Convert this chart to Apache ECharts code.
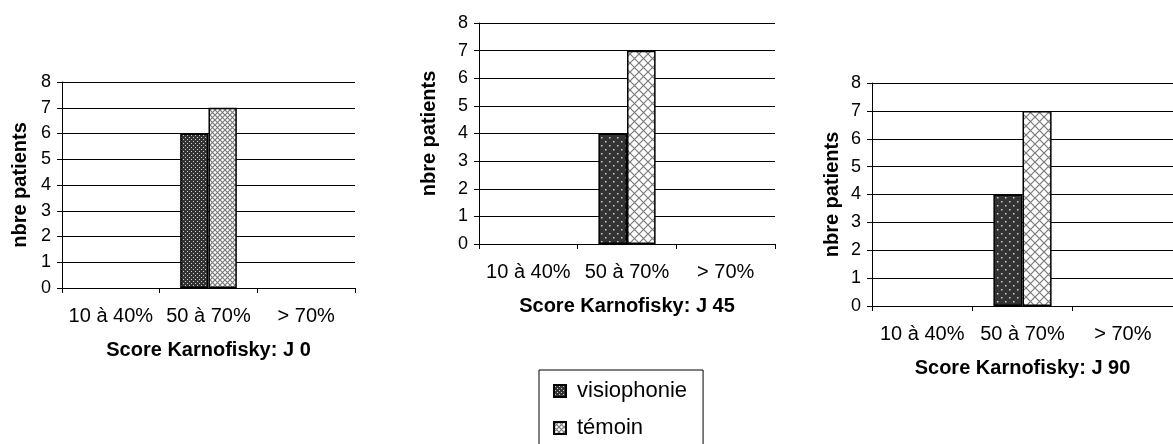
<!DOCTYPE html>
<html>
<head>
<meta charset="utf-8">
<script src="https://cdn.jsdelivr.net/npm/echarts@6/dist/echarts.min.js"></script>
<style>
  html, body { margin: 0; padding: 0; background: #fff; }
  #chart { width: 1173px; height: 444px; }
</style>
</head>
<body>
<div id="chart"></div>
<script>
// categories and values
const categories = ['10 à 40%', '50 à 70%', '> 70%'];
const seriesNames = ['visiophonie', 'témoin'];
const visioJ0 = [0, 6, 0];
const temoinJ0 = [0, 7, 0];
const visioJ45 = [0, 4, 0];
const temoinJ45 = [0, 7, 0];
const visioJ90 = [0, 4, 0];
const temoinJ90 = [0, 7, 0];
const panelTitles = ['Score Karnofisky: J 0', 'Score Karnofisky: J 45', 'Score Karnofisky: J 90'];
const yName = 'nbre patients';

// small canvas tiles used as fill patterns
function dotTile(size, dot) {
  const c = document.createElement('canvas');
  c.width = size; c.height = size;
  const g = c.getContext('2d');
  g.fillStyle = '#333';
  g.fillRect(0, 0, size, size);
  g.fillStyle = '#cfcfcf';
  const h = size / 2;
  g.fillRect(1, 1, dot, dot);
  g.fillRect(1 + h, 1 + h, dot, dot);
  return c;
}
function hatchTile(size) {
  const c = document.createElement('canvas');
  c.width = size; c.height = size;
  const g = c.getContext('2d');
  g.fillStyle = '#fff';
  g.fillRect(0, 0, size, size);
  g.strokeStyle = '#7a7a7a';
  g.lineWidth = 1.2;
  g.beginPath();
  g.moveTo(0, 0); g.lineTo(size, size);
  g.moveTo(size, 0); g.lineTo(0, size);
  g.stroke();
  return c;
}
const darkFine = { image: dotTile(4, 1), repeat: 'repeat' };
const darkCoarse = { image: dotTile(8, 1.5), repeat: 'repeat' };
const hatchFine = { image: hatchTile(5), repeat: 'repeat' };
const hatchCoarse = { image: hatchTile(9), repeat: 'repeat' };

const grids = [
  { left: 62, top: 82, width: 293, height: 206 },
  { left: 479, top: 23, width: 296, height: 221 },
  { left: 872, top: 83, width: 311, height: 223 },
];
const yNameGaps = [32, 40, 30];

const font = 'Liberation Sans, Arial, sans-serif';

const xAxes = grids.map((_, i) => ({
  type: 'category',
  gridIndex: i,
  data: categories,
  name: panelTitles[i],
  nameLocation: 'middle',
  nameGap: 52,
  nameTextStyle: { color: '#000', fontSize: 20, fontWeight: 'bold', fontFamily: font },
  axisLine: { lineStyle: { color: '#000', width: 1 } },
  axisTick: { show: true, interval: 0, length: 5, lineStyle: { color: '#000' } },
  axisLabel: { color: '#000', fontSize: 20, fontFamily: font, margin: 18, interval: 0, hideOverlap: false },
  splitLine: { show: false },
}));

const yAxes = grids.map((_, i) => ({
  type: 'value',
  gridIndex: i,
  min: 0,
  max: 8,
  interval: 1,
  name: yName,
  nameLocation: 'middle',
  nameGap: yNameGaps[i],
  nameRotate: 90,
  nameTextStyle: { color: '#000', fontSize: 20, fontWeight: 'bold', fontFamily: font },
  axisLine: { show: true, lineStyle: { color: '#000', width: 1 } },
  axisTick: { show: true, length: 5, lineStyle: { color: '#000' } },
  axisLabel: { color: '#000', fontSize: 18, fontFamily: font, margin: 11 },
  splitLine: { show: true, lineStyle: { color: '#000', width: 1 } },
}));

const data = [
  [visioJ0, temoinJ0],
  [visioJ45, temoinJ45],
  [visioJ90, temoinJ90],
];

const series = [];
data.forEach((pair, i) => {
  pair.forEach((vals, k) => {
    let fill;
    if (k === 0) fill = i === 0 ? darkFine : darkCoarse;
    else fill = i === 0 ? hatchFine : hatchCoarse;
    series.push({
      name: seriesNames[k],
      type: 'bar',
      xAxisIndex: i,
      yAxisIndex: i,
      // empty categories get no outline
      data: vals.map((v) => (v === 0 ? { value: v, itemStyle: { borderWidth: 0 } } : v)),
      barGap: '0%',
      barCategoryGap: '42%',
      itemStyle: { color: fill, borderColor: '#000', borderWidth: 1.5 },
      emphasis: { disabled: true },
    });
  });
});

const chart = echarts.init(document.getElementById('chart'));
chart.setOption({
  backgroundColor: '#fff',
  animation: false,
  grid: grids,
  xAxis: xAxes,
  yAxis: yAxes,
  legend: {
    data: seriesNames,
    orient: 'vertical',
    left: 539,
    top: 370,
    height: 90,
    padding: [10, 16, 30, 14],
    itemGap: 15,
    itemWidth: 12,
    itemHeight: 12,
    icon: 'rect',
    borderColor: '#000',
    borderWidth: 1,
    textStyle: { color: '#000', fontSize: 22, fontFamily: font, padding: [0, 0, 0, 6] },
  },
  series: series,
});
</script>
</body>
</html>
